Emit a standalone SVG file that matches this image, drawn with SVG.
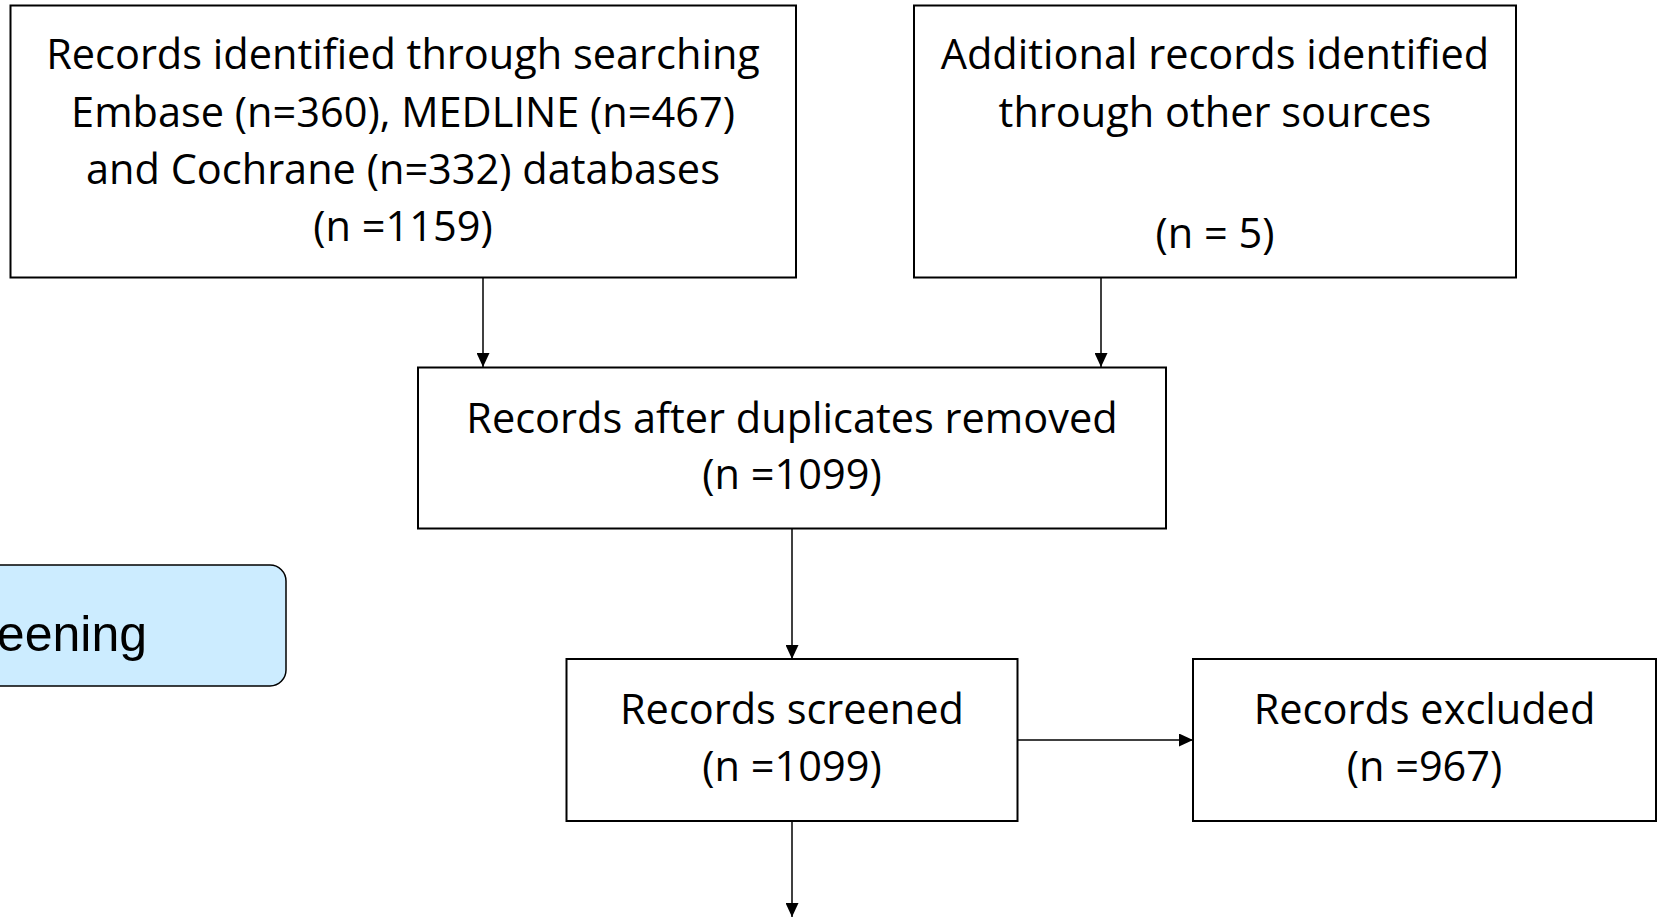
<svg xmlns="http://www.w3.org/2000/svg" width="1660" height="917" viewBox="0 0 1660 917">
  <style>
    .box { fill: #ffffff; stroke: #000000; stroke-width: 2; }
    .t { font-family: "Open Sans", "Liberation Sans", sans-serif; font-size: 41.5px; fill: #000000; text-anchor: middle; }
    .conn { stroke: #000000; stroke-width: 1.5; fill: none; marker-end: url(#arr); }
    .phase { fill: #CCECFF; stroke: #000000; stroke-width: 1.5; }
    .pt { font-family: "Liberation Sans", Arial, sans-serif; font-size: 50px; fill: #000000; text-anchor: end; }
  </style>
  <defs>
    <marker id="arr" markerUnits="userSpaceOnUse" markerWidth="14" markerHeight="13" refX="14" refY="6.5" orient="auto">
      <path d="M0,0 L14,6.5 L0,13 z" fill="#000000"/>
    </marker>
  </defs>
  <rect width="1660" height="917" fill="#ffffff"/>

  <g id="phase-screening">
    <rect class="phase" x="-20" y="565" width="306" height="121" rx="16" ry="16"/>
    <text class="pt" x="147" y="651">Screening</text>
  </g>

  <g id="connectors">
    <path class="conn" d="M483,277 V367"/>
    <path class="conn" d="M1101,277 V367"/>
    <path class="conn" d="M792,528 V659"/>
    <path class="conn" d="M1017,740 H1193"/>
    <path class="conn" d="M792,821 V917"/>
  </g>

  <g id="node-identified-databases">
    <rect class="box" x="10.5" y="5.5" width="785.5" height="272"/>
    <text class="t" x="403" y="69">Records identified through searching</text>
    <text class="t" x="403" y="127">Embase (n=360), MEDLINE (n=467)</text>
    <text class="t" x="403" y="184">and Cochrane (n=332) databases</text>
    <text class="t" x="403" y="241">(n =1159)</text>
  </g>

  <g id="node-other-sources">
    <rect class="box" x="914" y="5.5" width="602" height="272"/>
    <text class="t" x="1215" y="69">Additional records identified</text>
    <text class="t" x="1215" y="127">through other sources</text>
    <text class="t" x="1215" y="248">(n = 5)</text>
  </g>

  <g id="node-duplicates-removed">
    <rect class="box" x="418" y="367.5" width="748" height="161"/>
    <text class="t" x="792" y="433">Records after duplicates removed</text>
    <text class="t" x="792" y="489">(n =1099)</text>
  </g>

  <g id="node-screened">
    <rect class="box" x="566.5" y="659" width="451" height="162"/>
    <text class="t" x="792" y="724">Records screened</text>
    <text class="t" x="792" y="781">(n =1099)</text>
  </g>

  <g id="node-excluded">
    <rect class="box" x="1193" y="659" width="463" height="162"/>
    <text class="t" x="1424.5" y="724">Records excluded</text>
    <text class="t" x="1424.5" y="781">(n =967)</text>
  </g>
</svg>
